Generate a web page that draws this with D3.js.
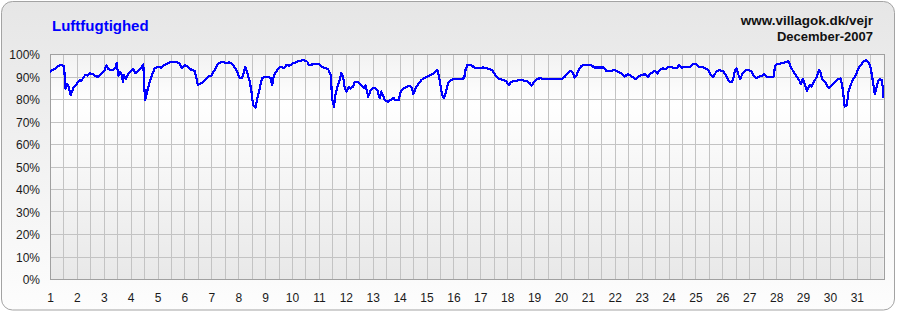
<!DOCTYPE html>
<html>
<head>
<meta charset="utf-8">
<script src="https://cdn.jsdelivr.net/npm/d3@7"></script>
<style>
  body { margin: 0; background: #fff; }
  text { font-family: Arial, "Liberation Sans", sans-serif; }
</style>
</head>
<body>
<svg width="897" height="312"></svg>
<script>
// time in days (1 = Dec 1 00:00), relative humidity in %
var dayTimes = [
  1.00, 1.17, 1.36, 1.52, 1.58, 1.64, 1.69, 1.77, 1.86, 1.98, 2.10, 2.16, 2.26, 2.31, 2.39, 2.48, 2.60, 2.72, 2.81, 2.91,
  3.03, 3.10, 3.16, 3.34, 3.44, 3.48, 3.52, 3.55, 3.60, 3.65, 3.71, 3.75, 3.81, 3.90, 3.98, 4.09, 4.17, 4.27, 4.40, 4.47,
  4.51, 4.54, 4.61, 4.71, 4.79, 4.89, 5.02, 5.14, 5.26, 5.39, 5.51, 5.70, 5.82, 5.91, 6.01, 6.13, 6.26, 6.38, 6.50, 6.63,
  6.75, 6.88, 7.00, 7.12, 7.25, 7.43, 7.56, 7.68, 7.81, 7.93, 8.05, 8.14, 8.22, 8.26, 8.34, 8.43, 8.49, 8.55, 8.64, 8.71,
  8.80, 8.88, 8.98, 9.13, 9.21, 9.26, 9.33, 9.45, 9.58, 9.70, 9.79, 9.91, 10.04, 10.20, 10.41, 10.57, 10.62, 10.78, 11.03, 11.15,
  11.34, 11.44, 11.49, 11.56, 11.61, 11.69, 11.77, 11.83, 11.90, 11.96, 12.02, 12.11, 12.18, 12.27, 12.33, 12.45, 12.58, 12.68, 12.73, 12.83,
  12.93, 13.05, 13.17, 13.26, 13.32, 13.45, 13.57, 13.67, 13.76, 13.84, 13.97, 14.04, 14.16, 14.29, 14.38, 14.46, 14.51, 14.59, 14.69, 14.81,
  14.96, 15.12, 15.28, 15.40, 15.45, 15.52, 15.58, 15.65, 15.73, 15.80, 15.90, 16.02, 16.24, 16.40, 16.45, 16.52, 16.67, 16.77, 16.92, 17.10,
  17.26, 17.44, 17.54, 17.66, 17.85, 17.97, 18.06, 18.16, 18.30, 18.50, 18.71, 18.84, 18.90, 19.00, 19.12, 19.21, 19.40, 19.89, 20.04, 20.14,
  20.26, 20.36, 20.45, 20.51, 20.57, 20.66, 20.74, 20.82, 21.13, 21.23, 21.57, 21.69, 21.88, 22.00, 22.12, 22.25, 22.37, 22.47, 22.56, 22.64,
  22.77, 22.87, 22.99, 23.14, 23.24, 23.34, 23.49, 23.59, 23.67, 23.80, 23.88, 24.01, 24.17, 24.33, 24.38, 24.50, 24.66, 24.83, 24.91, 25.04,
  25.10, 25.35, 25.47, 25.57, 25.66, 25.78, 25.90, 26.04, 26.14, 26.23, 26.35, 26.41, 26.47, 26.54, 26.60, 26.66, 26.76, 26.85, 26.97, 27.09,
  27.16, 27.25, 27.34, 27.47, 27.55, 27.65, 27.90, 27.96, 28.02, 28.21, 28.33, 28.46, 28.54, 28.64, 28.77, 28.87, 28.92, 28.99, 29.08, 29.14,
  29.24, 29.32, 29.41, 29.51, 29.60, 29.64, 29.67, 29.73, 29.82, 29.91, 29.98, 30.07, 30.16, 30.23, 30.32, 30.40, 30.45, 30.50, 30.55, 30.63,
  30.69, 30.77, 30.87, 30.97, 31.06, 31.15, 31.25, 31.35, 31.43, 31.49, 31.56, 31.62, 31.67, 31.72, 31.79, 31.87, 31.93, 31.97, 31.99
];

var humidity = [
  92.2, 93.3, 95.1, 94.8, 84.5, 86.5, 85.5, 81.8, 84.7, 86.5, 88.4, 88.0, 89.8, 90.7, 90.4, 91.4, 91.0, 90.0, 90.0, 91.4,
  92.9, 95.1, 93.2, 92.9, 94.0, 95.9, 92.2, 90.4, 92.2, 91.4, 87.7, 90.7, 88.9, 91.0, 92.2, 93.3, 91.4, 92.5, 94.0, 95.4,
  84.7, 79.6, 83.3, 87.7, 90.7, 93.6, 94.4, 93.9, 95.1, 95.9, 96.6, 96.3, 95.9, 93.6, 95.1, 94.4, 92.9, 92.5, 86.2, 87.0,
  88.4, 90.0, 90.4, 92.9, 95.8, 96.6, 95.9, 96.3, 95.1, 92.9, 89.5, 89.2, 92.2, 94.4, 91.4, 87.7, 83.3, 77.3, 76.2, 80.3,
  84.7, 89.2, 89.9, 89.9, 89.2, 86.2, 90.7, 92.9, 94.4, 93.6, 95.1, 94.8, 95.9, 96.6, 97.3, 96.6, 95.1, 95.4, 95.4, 94.0,
  93.3, 90.7, 80.3, 76.6, 81.8, 85.5, 88.4, 91.4, 89.9, 84.7, 83.3, 85.5, 84.7, 85.5, 87.7, 87.4, 86.2, 84.7, 86.2, 81.0,
  84.0, 85.0, 84.0, 80.3, 83.3, 79.6, 78.8, 79.6, 80.6, 79.6, 79.6, 83.3, 84.7, 85.5, 85.9, 84.7, 82.1, 84.7, 86.5, 88.5,
  89.5, 90.4, 91.4, 92.9, 90.7, 86.2, 81.8, 80.3, 83.3, 87.0, 88.4, 88.9, 88.9, 89.2, 92.9, 95.1, 95.1, 94.0, 93.6, 94.0,
  93.6, 92.9, 91.0, 89.2, 88.5, 87.7, 86.2, 87.7, 88.0, 88.5, 88.0, 87.0, 85.9, 87.7, 88.9, 89.2, 88.9, 88.9, 88.9, 89.9,
  91.4, 92.5, 91.4, 89.5, 90.4, 92.9, 94.4, 95.1, 95.1, 94.0, 94.0, 92.5, 92.5, 92.9, 92.2, 91.4, 89.9, 91.0, 90.7, 89.9,
  88.9, 89.9, 90.7, 91.0, 89.9, 91.4, 92.5, 91.4, 92.9, 93.6, 93.3, 94.4, 93.9, 93.9, 95.1, 93.9, 94.4, 94.4, 95.4, 95.4,
  94.4, 93.9, 92.9, 90.7, 89.9, 92.2, 92.9, 92.2, 90.4, 88.0, 87.4, 89.2, 92.9, 93.6, 90.7, 88.9, 91.4, 92.6, 92.9, 92.2,
  90.4, 89.2, 89.9, 90.4, 91.0, 89.9, 89.9, 94.4, 95.4, 95.9, 96.3, 96.9, 94.4, 92.2, 89.9, 88.0, 86.5, 88.9, 86.2, 83.6,
  86.2, 85.5, 87.7, 89.9, 92.9, 92.2, 90.7, 88.4, 87.7, 85.5, 85.0, 86.2, 87.0, 88.0, 88.9, 89.2, 86.5, 81.8, 76.6, 77.3,
  83.3, 86.2, 88.9, 90.7, 93.6, 95.1, 96.6, 97.3, 96.3, 95.1, 90.7, 86.2, 82.1, 84.7, 88.0, 88.9, 88.4, 84.7, 80.3
];

var yTicks = [0, 10, 20, 30, 40, 50, 60, 70, 80, 90, 100];
var dayLabels = d3.range(1, 32);
var chartTitle = "Luftfugtighed";
var siteLines = ["www.villagok.dk/vejr", "December-2007"];

var svg = d3.select("svg"),
  margin = { top: 54, right: 13.3, bottom: 33, left: 50 },
  width = +svg.attr("width"),
  height = +svg.attr("height");

var data = dayTimes.map(function (t, i) { return { t: t, v: humidity[i] }; });

var defs = svg.append("defs");
var bgGrad = defs.append("linearGradient")
  .attr("id", "bgGrad").attr("x1", 0).attr("y1", 0).attr("x2", 0).attr("y2", 1);
bgGrad.append("stop").attr("offset", "0%").attr("stop-color", "#e6e6e6");
bgGrad.append("stop").attr("offset", "100%").attr("stop-color", "#fdfdfd");

var plotGrad = defs.append("linearGradient")
  .attr("id", "plotGrad").attr("x1", 0).attr("y1", 0).attr("x2", 0).attr("y2", 1);
plotGrad.append("stop").attr("offset", "0%").attr("stop-color", "#f2f2f2");
plotGrad.append("stop").attr("offset", "22%").attr("stop-color", "#ffffff");
plotGrad.append("stop").attr("offset", "100%").attr("stop-color", "#e8e8e8");

// outer frame
svg.append("rect")
  .attr("x", 1.5).attr("y", 1.5)
  .attr("width", width - 4).attr("height", height - 3.5)
  .attr("rx", 11).attr("ry", 11)
  .attr("fill", "url(#bgGrad)")
  .attr("stroke", "#a3a3a3");

var x = d3.scaleLinear()
  .domain([1, 32])
  .range([margin.left, width - margin.right]);

var y = d3.scaleLinear()
  .domain([0, 100])
  .range([height - margin.bottom, margin.top]);

svg.append("rect")
  .attr("x", x(1)).attr("y", y(100))
  .attr("width", x(32) - x(1)).attr("height", y(0) - y(100))
  .attr("fill", "url(#plotGrad)");

// grid: every half day and every 10%
svg.append("g")
  .selectAll("line")
  .data(d3.range(1.5, 32, 0.5))
  .enter().append("line")
  .attr("x1", function (d) { return Math.round(x(d)) + 0.5; })
  .attr("x2", function (d) { return Math.round(x(d)) + 0.5; })
  .attr("y1", y(100)).attr("y2", y(0))
  .attr("stroke", "#c3c3c3");

svg.append("g")
  .selectAll("line")
  .data(yTicks.slice(1, -1))
  .enter().append("line")
  .attr("x1", x(1)).attr("x2", x(32))
  .attr("y1", function (d) { return Math.round(y(d)) + 0.5; })
  .attr("y2", function (d) { return Math.round(y(d)) + 0.5; })
  .attr("stroke", "#c3c3c3");

svg.append("rect")
  .attr("x", Math.round(x(1)) + 0.5).attr("y", Math.round(y(100)) + 0.5)
  .attr("width", Math.round(x(32)) - Math.round(x(1)))
  .attr("height", Math.round(y(0)) - Math.round(y(100)))
  .attr("fill", "none")
  .attr("stroke", "#a0a0a0");

// axes
var yAxis = svg.append("g")
  .attr("transform", "translate(" + (margin.left - 10) + ",0)")
  .call(d3.axisLeft(y).tickValues(yTicks).tickSize(0).tickPadding(0)
    .tickFormat(function (d) { return d + "%"; }));
yAxis.select(".domain").remove();
yAxis.selectAll("text")
  .attr("font-size", 12)
  .attr("font-family", "Arial, 'Liberation Sans', sans-serif")
  .attr("fill", "#1a1a1a")
  .attr("dy", "0.4em");

var xAxis = svg.append("g")
  .attr("transform", "translate(0," + (height - margin.bottom) + ")")
  .call(d3.axisBottom(x).tickValues(dayLabels).tickSize(0).tickPadding(14)
    .tickFormat(d3.format("d")));
xAxis.select(".domain").remove();
xAxis.selectAll("text")
  .attr("font-size", 12)
  .attr("font-family", "Arial, 'Liberation Sans', sans-serif")
  .attr("fill", "#1a1a1a");

// humidity line (no anti-aliasing, like the original gif)
var line = d3.line()
  .x(function (d) { return x(d.t); })
  .y(function (d) { return y(d.v); });

svg.append("path")
  .datum(data)
  .attr("fill", "none")
  .attr("stroke", "#0000ff")
  .attr("stroke-width", 2.2)
  .attr("stroke-linejoin", "round")
  .attr("shape-rendering", "crispEdges")
  .attr("d", line);

// titles
svg.append("text")
  .attr("x", 52).attr("y", 31)
  .attr("font-size", 15)
  .attr("font-weight", "bold")
  .attr("fill", "#0000ff")
  .text(chartTitle);

svg.selectAll(".site")
  .data(siteLines)
  .enter().append("text")
  .attr("class", "site")
  .attr("x", 873)
  .attr("y", function (d, i) { return 25 + i * 15.5; })
  .attr("text-anchor", "end")
  .attr("font-size", function (d, i) { return i === 0 ? 13.5 : 13; })
  .attr("font-weight", "bold")
  .attr("fill", "#111")
  .text(function (d) { return d; });
</script>
</body>
</html>
